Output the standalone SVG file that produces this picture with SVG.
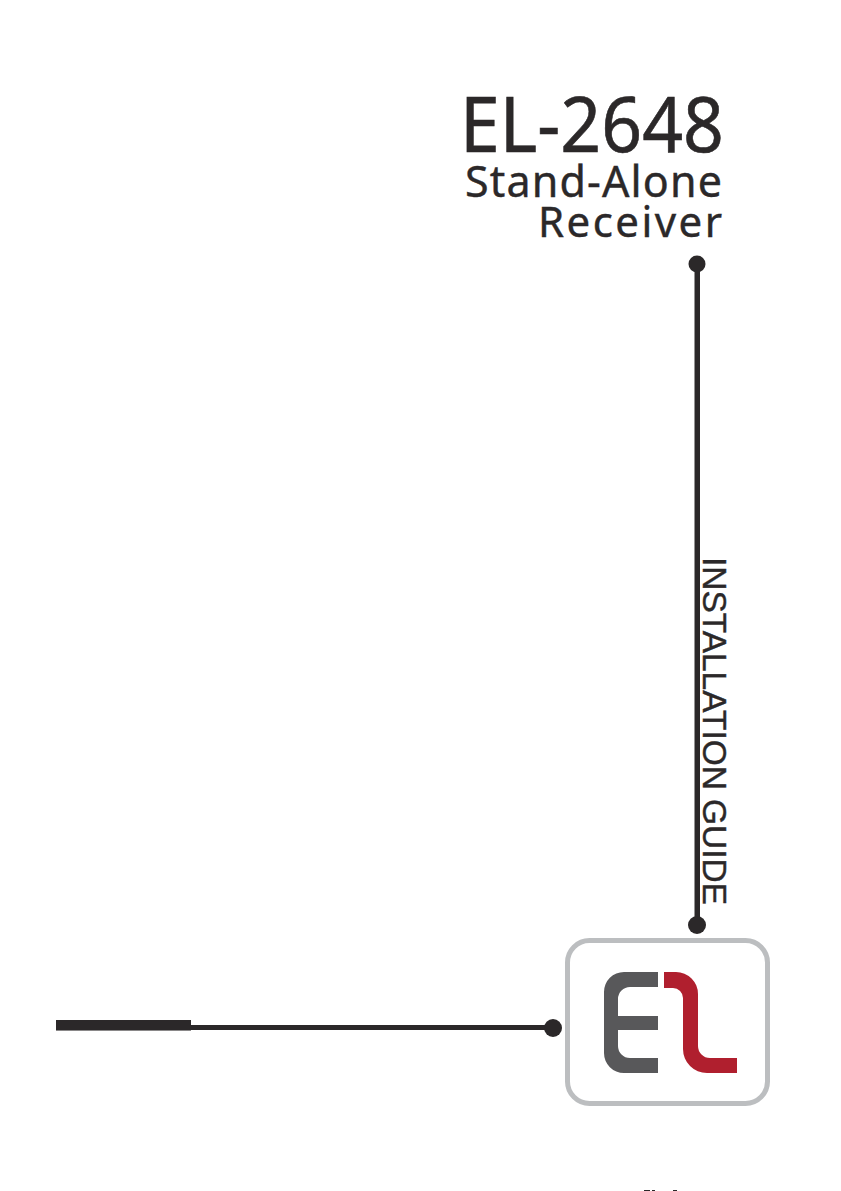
<svg xmlns="http://www.w3.org/2000/svg" width="841" height="1191" viewBox="0 0 841 1191">
<style>
.t{font-family:"Noto Sans","DejaVu Sans",sans-serif;fill:#2b2829}
.d{fill:#2b2829}
</style>
<rect width="841" height="1191" fill="#fff"/>
<g id="title">
<text class="t" x="460" y="152" font-size="77" textLength="264" lengthAdjust="spacingAndGlyphs" stroke="#2b2829" stroke-width="0.6">EL-2648</text>
<text class="t" x="465" y="197" font-size="43" textLength="257" lengthAdjust="spacing" stroke="#2b2829" stroke-width="0.4">Stand-Alone</text>
<text class="t" x="538" y="237" font-size="42" textLength="184" lengthAdjust="spacing" stroke="#2b2829" stroke-width="0.4">Receiver</text>
</g>
<g id="connectors">
<rect class="d" x="694.500" y="264" width="5.500" height="661"/>
<circle class="d" cx="697" cy="264" r="8.500"/>
<circle class="d" cx="697" cy="925" r="9"/>
<rect class="d" x="56" y="1020" width="135" height="10"/>
<rect x="56" y="1030" width="135" height="1" fill="#8a8889"/>
<rect class="d" x="191" y="1025" width="362" height="5"/>
<circle class="d" cx="553" cy="1028" r="9"/>
</g>
<g id="guide-label">
<text x="703" y="557" transform="rotate(90 703 557)" font-family="'Liberation Sans',Arial,sans-serif" font-size="33.500" fill="#2b2829" stroke="#2b2829" stroke-width="0.4" textLength="348" lengthAdjust="spacingAndGlyphs">INSTALLATION GUIDE</text>
</g>
<g id="logo">
<rect x="567.500" y="940.500" width="200" height="163" rx="22" fill="#fff" stroke="#bcbec0" stroke-width="5"/>
<path fill="#58585a" d="M658 972H624A20 20 0 0 0 604 992V1053A20 20 0 0 0 624 1073H658V1058H630A12 12 0 0 1 618 1046V1030H658V1016H618V999A12 12 0 0 1 630 987H658Z"/>
<path fill="#b01f2e" d="M664 972H676A22 22 0 0 1 698 994V1046A12 12 0 0 0 710 1058H737V1073H707A24 24 0 0 1 683 1049V998A10 10 0 0 0 673 988H664Z"/>
</g>
<g id="bottom-edge" class="d">
<rect x="644" y="1190" width="6" height="1"/>
<rect x="652" y="1190" width="3" height="1"/>
<rect x="673" y="1190" width="4" height="1"/>
</g>
</svg>
